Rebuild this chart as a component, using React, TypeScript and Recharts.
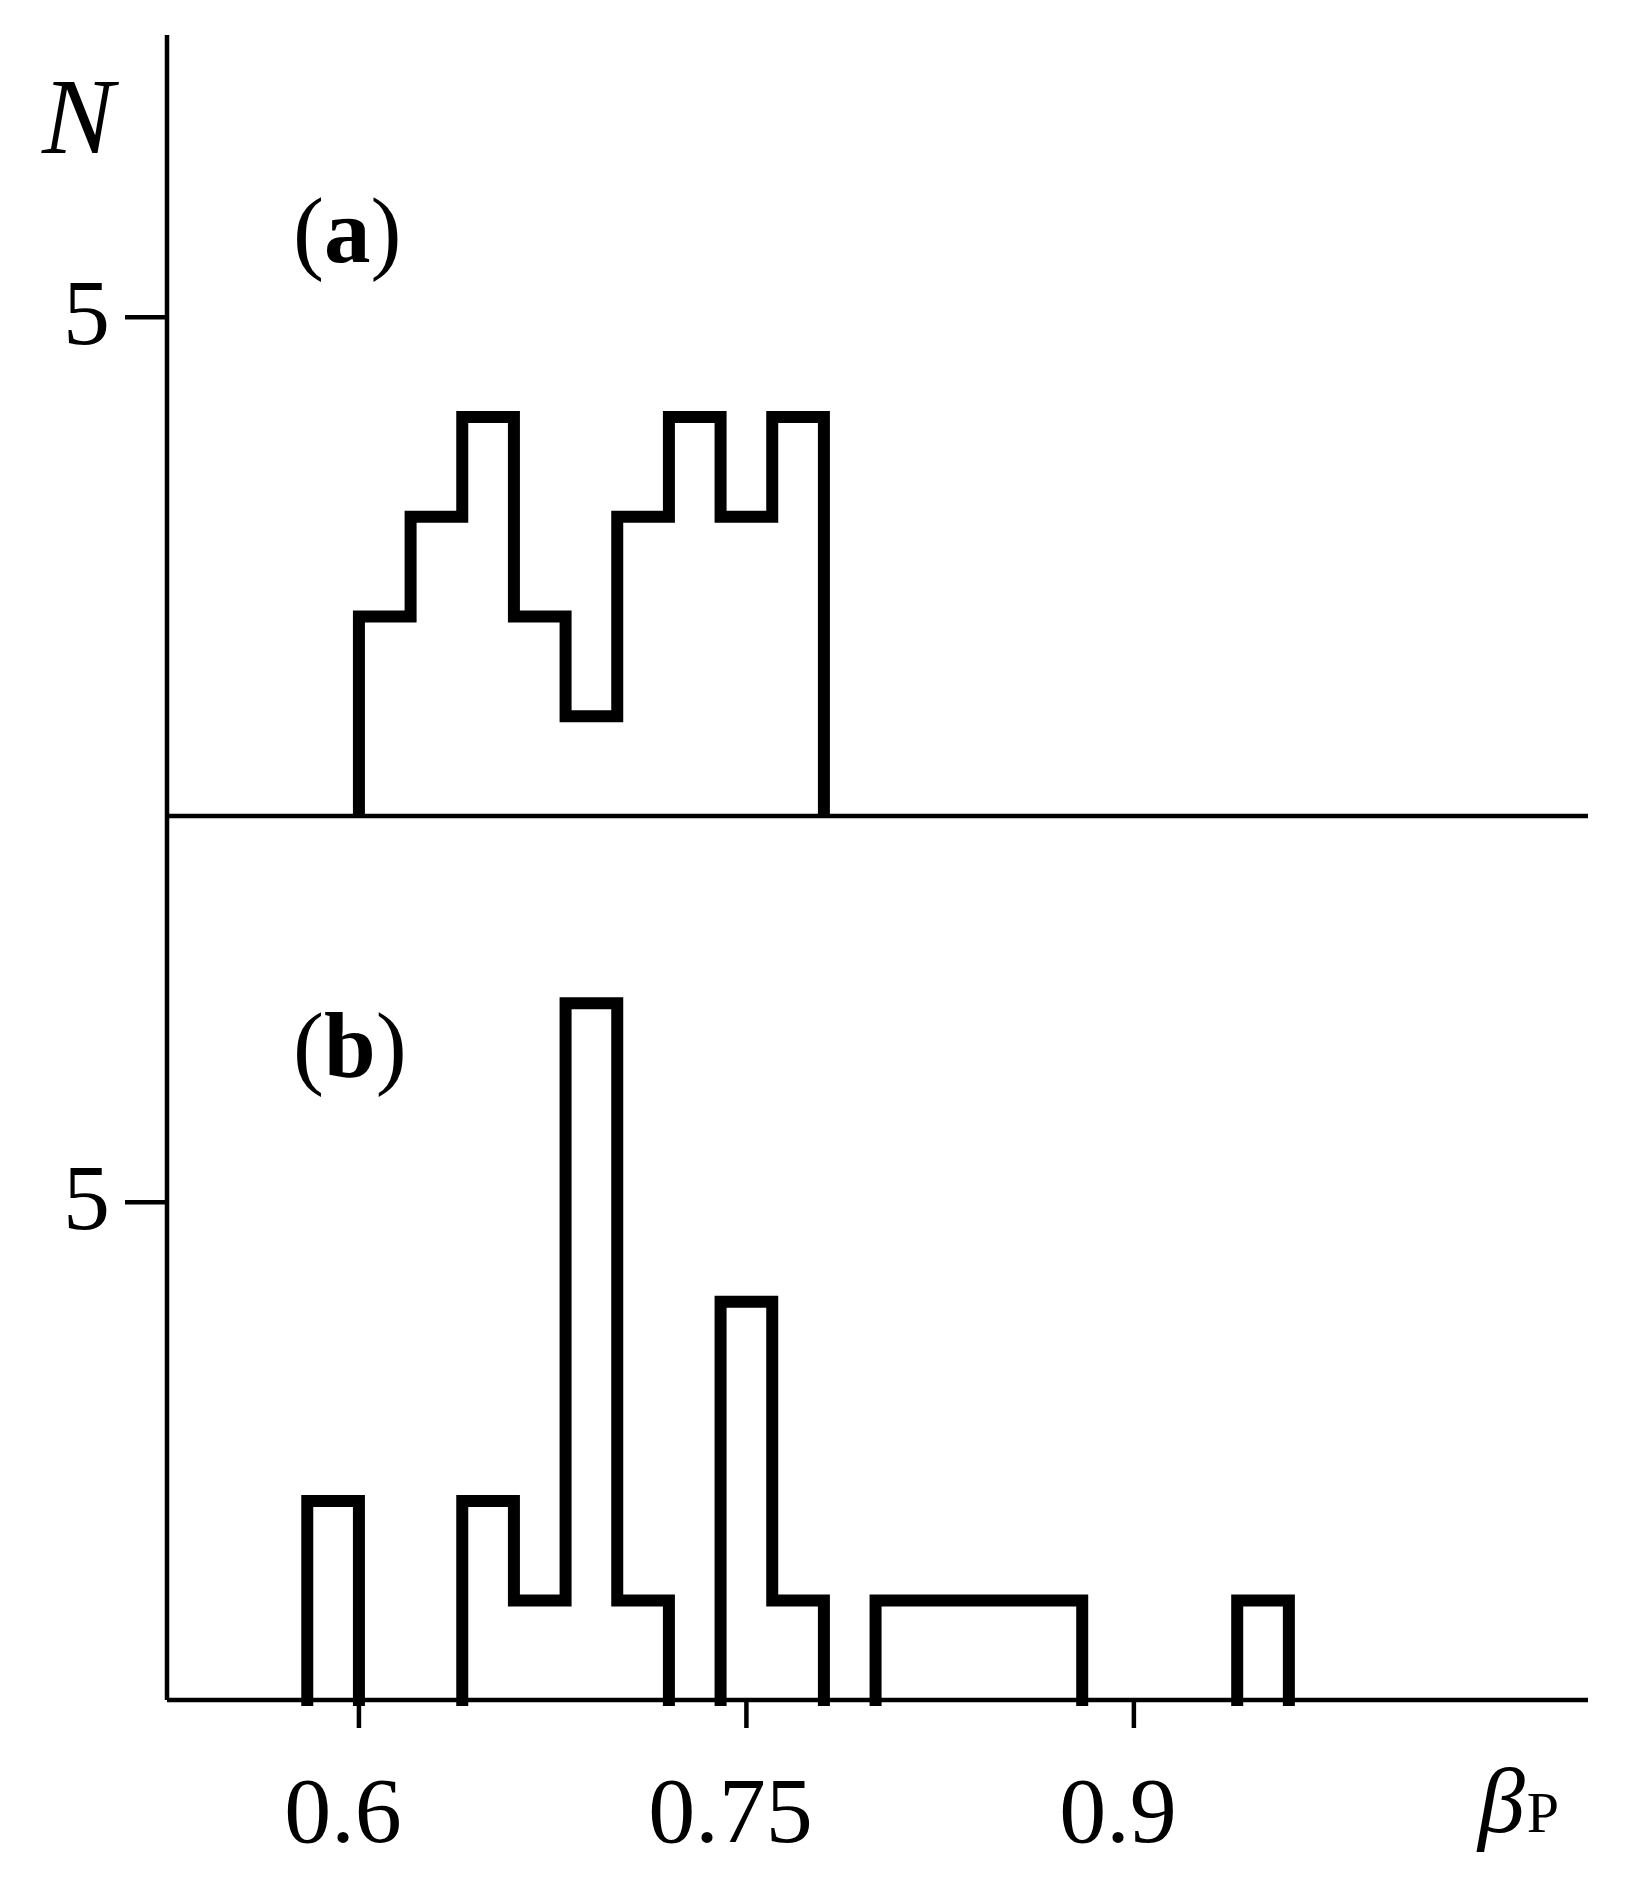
import React from "react";
import { Label, Line, LineChart, XAxis, YAxis } from "recharts";

// histogram bins (left edges), width 0.02
const binStarts = [0.58, 0.6, 0.62, 0.64, 0.66, 0.68, 0.7, 0.72, 0.74, 0.76, 0.78, 0.8, 0.82, 0.84, 0.86, 0.88, 0.9, 0.92, 0.94];
const binWidth = 0.02;

// panel (a) and (b) counts per bin
const countsA = [0, 2, 3, 4, 2, 1, 3, 4, 3, 4, 0, 0, 0, 0, 0, 0, 0, 0, 0];
const countsB = [2, 0, 0, 2, 1, 7, 1, 0, 4, 1, 0, 1, 1, 1, 1, 0, 0, 0, 1];

const xTicks = [0.6, 0.75, 0.9];
const yTicks = [5];
const xDomain = [0.5257, 1.0758];

const FONT = "'Liberation Serif', 'Times New Roman', serif";

// outline of a histogram as step points, runs split by nulls
function stepPoints(counts: number[]) {
  const pts: { x: number; y: number | null }[] = [];
  let open = false;
  counts.forEach((c, i) => {
    const x = binStarts[i];
    if (c > 0) {
      if (!open) {
        pts.push({ x, y: 0 });
        open = true;
      }
      pts.push({ x, y: c });
    } else if (open) {
      pts.push({ x, y: 0 });
      pts.push({ x, y: null });
      open = false;
    }
  });
  if (open) pts.push({ x: binStarts[binStarts.length - 1] + binWidth, y: 0 });
  return pts;
}

const dataA = stepPoints(countsA);
const dataB = stepPoints(countsB);

const YTick = (props: any) => (
  <text x={props.x} y={props.y + 27} textAnchor="end" fontFamily={FONT} fontSize={94} fill="#000">
    {props.payload.value}
  </text>
);

const XTick = (props: any) => (
  <text x={props.x - 16} y={props.y + 112} textAnchor="middle" fontFamily={FONT} fontSize={94} fill="#000">
    {props.payload.value}
  </text>
);

const axisLine = { stroke: "#000", strokeWidth: 4.5 };

export default function App() {
  return (
    <div style={{ position: "absolute", left: 0, top: 0, width: 1631, height: 1902, background: "#fff" }}>
      <div style={{ position: "absolute", left: 0, top: 0 }}>
        <LineChart width={1631} height={830} data={dataA} margin={{ top: 35, right: 43, left: 0, bottom: 4 }}>
          <XAxis
            dataKey="x"
            type="number"
            domain={xDomain}
            ticks={xTicks}
            tick={false}
            tickLine={false}
            axisLine={axisLine}
            height={10}
          />
          <YAxis
            type="number"
            domain={[0, 7.83]}
            ticks={yTicks}
            width={167}
            tickSize={42}
            tickMargin={15}
            tick={<YTick />}
            tickLine={axisLine}
            axisLine={axisLine}
          >
            <Label
              content={() => (
                <text x={78} y={153} textAnchor="middle" fontFamily={FONT} fontStyle="italic" fontSize={108} fill="#000">
                  N
                </text>
              )}
            />
            <Label
              content={() => (
                <text x={293} y={262} fontFamily={FONT} fontSize={93} fill="#000">
                  (<tspan fontWeight="bold">a</tspan>)
                </text>
              )}
            />
          </YAxis>
          <Line
            dataKey="y"
            type="stepAfter"
            stroke="#000"
            strokeWidth={12}
            strokeLinejoin="miter"
            strokeLinecap="butt"
            dot={false}
            activeDot={false}
            isAnimationActive={false}
          />
        </LineChart>
      </div>
      <div style={{ position: "absolute", left: 0, top: 816 }}>
        <LineChart width={1631} height={1086} data={dataB} margin={{ top: 0, right: 43, left: 0, bottom: 0 }}>
          <XAxis
            dataKey="x"
            type="number"
            domain={xDomain}
            ticks={xTicks}
            tickSize={28}
            tickMargin={2}
            tick={<XTick />}
            tickLine={axisLine}
            axisLine={axisLine}
            height={202}
          >
            <Label
              content={() => (
                <text x={1478} y={1016} fontFamily={FONT} fill="#000">
                  <tspan fontStyle="italic" fontSize={94}>β</tspan>
                  <tspan fontSize={58} dx={2}>P</tspan>
                </text>
              )}
            />
          </XAxis>
          <YAxis
            type="number"
            domain={[0, 8.88]}
            ticks={yTicks}
            width={167}
            tickSize={42}
            tickMargin={15}
            tick={<YTick />}
            tickLine={axisLine}
            axisLine={axisLine}
          >
            <Label
              content={() => (
                <text x={293} y={261} fontFamily={FONT} fontSize={93} fill="#000">
                  (<tspan fontWeight="bold">b</tspan>)
                </text>
              )}
            />
          </YAxis>
          <Line
            dataKey="y"
            type="stepAfter"
            stroke="#000"
            strokeWidth={12}
            strokeLinejoin="miter"
            strokeLinecap="square"
            dot={false}
            activeDot={false}
            isAnimationActive={false}
          />
        </LineChart>
      </div>
    </div>
  );
}
